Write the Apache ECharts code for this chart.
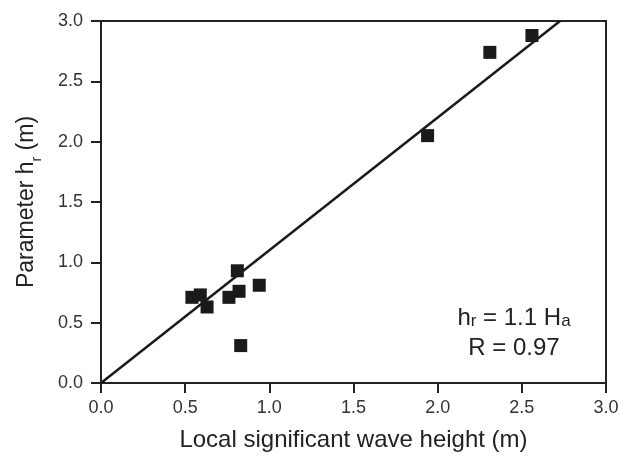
<!DOCTYPE html>
<html>
<head>
<meta charset="utf-8">
<script src="https://cdn.jsdelivr.net/npm/echarts@6/dist/echarts.min.js"></script>
<style>
  html, body { margin: 0; padding: 0; background: #fff; }
  #main { width: 633px; height: 457px; }
</style>
</head>
<body>
<div id="main"></div>
<script>
// measured points, local Hs (m) vs parameter hr (m)
var waveHeight = [0.54, 0.59, 0.63, 0.76, 0.81, 0.82, 0.83, 0.94, 1.94, 2.31, 2.56]
var paramHr   = [0.71, 0.73, 0.63, 0.71, 0.93, 0.76, 0.31, 0.81, 2.05, 2.74, 2.88]
var fitSlope = 1.1
var axisTicks = [0, 0.5, 1.0, 1.5, 2.0, 2.5, 3.0]

var points = []
for (var i = 0; i < waveHeight.length; i++) {
  points.push([waveHeight[i], paramHr[i]])
}
// fit line hr = 1.1 Ha, stopped at top of the frame
var fitLine = [[0, 0], [3.0 / fitSlope, 3.0]]

var font = "'Liberation Sans', Arial, sans-serif"
var ink = '#222'

const myChart = echarts.init(document.getElementById('main'))

option = {
  animation: false,
  grid: {
    left: 101, right: 27, top: 21, bottom: 74,
    show: true, borderColor: ink, borderWidth: 2, backgroundColor: 'transparent'
  },
  xAxis: {
    type: 'value', min: 0, max: 3, interval: 0.5,
    name: 'Local significant wave height (m)',
    nameLocation: 'middle', nameGap: 45,
    nameTextStyle: { fontFamily: font, fontSize: 24, color: ink },
    axisLine: { lineStyle: { color: ink, width: 2 } },
    axisTick: { length: 10, lineStyle: { color: ink, width: 2 } },
    axisLabel: {
      margin: 16, fontFamily: font, fontSize: 18, color: '#333',
      formatter: function (v) { return v.toFixed(1) }
    },
    splitLine: { show: false }
  },
  yAxis: {
    type: 'value', min: 0, max: 3, interval: 0.5,
    name: 'Parameter h{sub|r} (m)',
    nameLocation: 'middle', nameGap: 60,
    nameTextStyle: {
      fontFamily: font, fontSize: 23, color: ink, lineHeight: 28,
      rich: { sub: { fontFamily: font, fontSize: 14, color: ink, lineHeight: 28, verticalAlign: 'bottom', padding: [0, 0, -3, 0] } }
    },
    axisLine: { lineStyle: { color: ink, width: 2 } },
    axisTick: { length: 10, lineStyle: { color: ink, width: 2 } },
    axisLabel: {
      margin: 18, fontFamily: font, fontSize: 18, color: '#333',
      formatter: function (v) { return v.toFixed(1) }
    },
    splitLine: { show: false }
  },
  series: [
    {
      type: 'line',
      data: fitLine,
      showSymbol: false,
      lineStyle: { color: '#1a1a1a', width: 2.5 },
      z: 2
    },
    {
      type: 'scatter',
      data: points,
      symbol: 'rect',
      symbolSize: 13,
      itemStyle: { color: '#1a1a1a', opacity: 1 },
      z: 3
    }
  ],
  graphic: [
    {
      type: 'text', x: 514, y: 318,
      style: {
        text: 'h{s|r} = 1.1 H{s|a}',
        align: 'center', verticalAlign: 'middle',
        fontFamily: font, fontSize: 24, fill: ink,
        rich: { s: { fontFamily: font, fontSize: 17, fill: ink, verticalAlign: 'bottom' } }
      }
    },
    {
      type: 'text', x: 514, y: 348,
      style: { text: 'R = 0.97', align: 'center', verticalAlign: 'middle', fontFamily: font, fontSize: 24, fill: ink }
    }
  ]
}
myChart.setOption(option)
</script>
</body>
</html>
